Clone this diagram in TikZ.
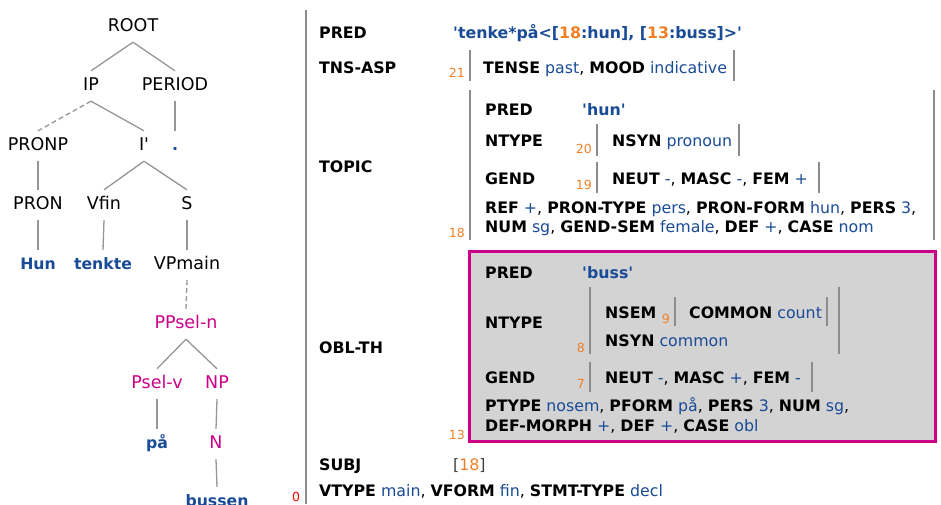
\documentclass[tikz,border=0pt]{standalone}
\usepackage{fontspec}
\setmainfont{DejaVu Sans}[Ligatures=TeXOff]
\usepackage{tikz}
\definecolor{fsblue}{RGB}{25,75,150}
\definecolor{fsorange}{RGB}{240,128,40}
\definecolor{fsmag}{RGB}{204,0,136}
\definecolor{bargray}{RGB}{140,140,140}
\definecolor{edgegray}{RGB}{150,150,150}
\definecolor{boxgray}{RGB}{211,211,211}
\newcommand\tfont{\fontsize{17.5}{20}\selectfont}
\newcommand\wfont{\fontsize{15.7}{19}\selectfont\bfseries}
\newcommand\ffont{\fontsize{15.8}{19}\selectfont}
\newcommand\xfont{\fontsize{12.5}{14}\selectfont}
\newcommand\attr[1]{\textbf{#1}}
\newcommand\fval[1]{\textcolor{fsblue}{#1}}
\newcommand\fsem[1]{\textcolor{fsblue}{\textbf{#1}}}
\newcommand\fidx[1]{\textcolor{fsorange}{#1}}
\tikzset{
  tn/.style={font=\tfont, text height=12.5pt, text depth=3.5pt, inner xsep=1pt, inner ysep=7pt},
  tw/.style={tn, font=\wfont, text=fsblue},
  tm/.style={tn, text=fsmag},
  edge/.style={draw=edgegray, line width=1.3pt},
  fa/.style={font=\ffont, anchor=base west, inner sep=0pt},
  ix/.style={font=\xfont, text=fsorange, anchor=base east, inner sep=0pt},
  bar/.style={draw=bargray, line width=2.6pt}
}
\begin{document}
\begin{tikzpicture}[x=1pt,y=-1pt]
\useasboundingbox (0,0) rectangle (941,504);
\node[tn] (root) at (133,27) {ROOT};
\node[tn] (ip) at (91,86) {IP};
\node[tn] (period) at (175,86) {PERIOD};
\node[tn] (pronp) at (38,146) {PRONP};
\node[tn] (ibar) at (144,146) {I'};
\node[tw] (dot) at (175,146) {.};
\node[tn] (pron) at (38,205) {PRON};
\node[tn] (vfin) at (104,205) {Vfin};
\node[tn] (s) at (187,205) {S};
\node[tw] (hun) at (38,265) {Hun};
\node[tw] (tenkte) at (103,265) {tenkte};
\node[tn] (vpmain) at (187,265) {VPmain};
\node[tm] (ppsel) at (186,324) {PPsel-n};
\node[tm] (psel) at (157,384) {Psel-v};
\node[tm] (np) at (217,384) {NP};
\node[tw] (paa) at (157,444) {på};
\node[tm] (n) at (216,444) {N};
\node[tw] (bussen) at (217,502) {bussen};
\node[font=\xfont, text=red, anchor=base west, inner sep=0pt] (zero) at (292,501) {0};
\foreach \a/\b in {root/ip, root/period, ip/ibar, period/dot, pronp/pron, ibar/vfin, ibar/s, pron/hun, vfin/tenkte, s/vpmain, ppsel/psel, ppsel/np, psel/paa, np/n, n/bussen}
  \draw[edge] (\a.south) -- (\b.north);
\draw[edge, dash pattern=on 5pt off 3pt] (ip.south) -- (pronp.north);
\draw[edge, dash pattern=on 5pt off 3pt] (vpmain.south) -- (ppsel.north);
\draw[bar] (306,10) -- (306,504);
\node[fa] (pred) at (319,38.5) {\attr{PRED}};
\node[fa] (predval) at (453,38.5) {\fsem{'tenke*på<[\fidx{18}:hun], [\fidx{13}:buss]>'}};
\node[fa] (tnsasp) at (319,73) {\attr{TNS-ASP}};
\node[ix] (i21) at (465,77) {21};
\node[fa] (tns) at (483,73) {\attr{TENSE} \fval{past}, \attr{MOOD} \fval{indicative}};
\draw[bar] (470,50) -- (470,81);
\draw[bar] (734,50) -- (734,81);
\node[fa] (topic) at (319,172) {\attr{TOPIC}};
\node[fa] (tpred) at (485,115) {\attr{PRED}};
\node[fa] (tpredval) at (582,115) {\fsem{'hun'}};
\node[fa] (tntype) at (485,146) {\attr{NTYPE}};
\node[ix] (i20) at (592,153) {20};
\node[fa] (tnsyn) at (612,146) {\attr{NSYN} \fval{pronoun}};
\node[fa] (tgend) at (485,184) {\attr{GEND}};
\node[ix] (i19) at (592,189) {19};
\node[fa] (tgendval) at (612,184) {\attr{NEUT} \fval{-}, \attr{MASC} \fval{-}, \attr{FEM} \fval{+}};
\node[fa] (tref) at (485,213) {\attr{REF} \fval{+}, \attr{PRON-TYPE} \fval{pers}, \attr{PRON-FORM} \fval{hun}, \attr{PERS} \fval{3},};
\node[fa] (tnum) at (485,232) {\attr{NUM} \fval{sg}, \attr{GEND-SEM} \fval{female}, \attr{DEF} \fval{+}, \attr{CASE} \fval{nom}};
\node[ix] (i18) at (465,237) {18};
\draw[bar] (470,90) -- (470,240);
\draw[bar] (934,90) -- (934,240);
\draw[bar] (597,124) -- (597,156);
\draw[bar] (739,124) -- (739,156);
\draw[bar] (597,162) -- (597,193);
\draw[bar] (819,162) -- (819,193);
\draw[draw=fsmag, fill=boxgray, line width=3pt] (469,251) rectangle (935,441);
\node[fa] (oblth) at (319,353) {\attr{OBL-TH}};
\node[ix] (i13) at (465,439) {13};
\node[fa] (opred) at (485,278) {\attr{PRED}};
\node[fa] (opredval) at (582,278) {\fsem{'buss'}};
\node[fa] (ontype) at (485,328) {\attr{NTYPE}};
\node[ix] (i8) at (585,352) {8};
\node[fa] (onsem) at (605,318) {\attr{NSEM}};
\node[ix] (i9) at (670,323) {9};
\node[fa] (ocommon) at (689,318) {\attr{COMMON} \fval{count}};
\node[fa] (onsyn) at (605,346) {\attr{NSYN} \fval{common}};
\node[fa] (ogend) at (485,383) {\attr{GEND}};
\node[ix] (i7) at (585,388) {7};
\node[fa] (ogendval) at (605,383) {\attr{NEUT} \fval{-}, \attr{MASC} \fval{+}, \attr{FEM} \fval{-}};
\node[fa] (optype) at (485,411) {\attr{PTYPE} \fval{nosem}, \attr{PFORM} \fval{på}, \attr{PERS} \fval{3}, \attr{NUM} \fval{sg},};
\node[fa] (odef) at (485,431) {\attr{DEF-MORPH} \fval{+}, \attr{DEF} \fval{+}, \attr{CASE} \fval{obl}};
\draw[bar] (590,287) -- (590,354);
\draw[bar] (839,287) -- (839,354);
\draw[bar] (675,297) -- (675,326);
\draw[bar] (827,297) -- (827,326);
\draw[bar] (590,362) -- (590,392);
\draw[bar] (812,362) -- (812,392);
\node[fa] (subj) at (319,470) {\attr{SUBJ}};
\node[fa] (subjval) at (453,470) {\textcolor{darkgray}{[}\fidx{18}\textcolor{darkgray}{]}};
\node[fa] (vtype) at (319,496) {\attr{VTYPE} \fval{main}, \attr{VFORM} \fval{fin}, \attr{STMT-TYPE} \fval{decl}};
\end{tikzpicture}
\end{document}
